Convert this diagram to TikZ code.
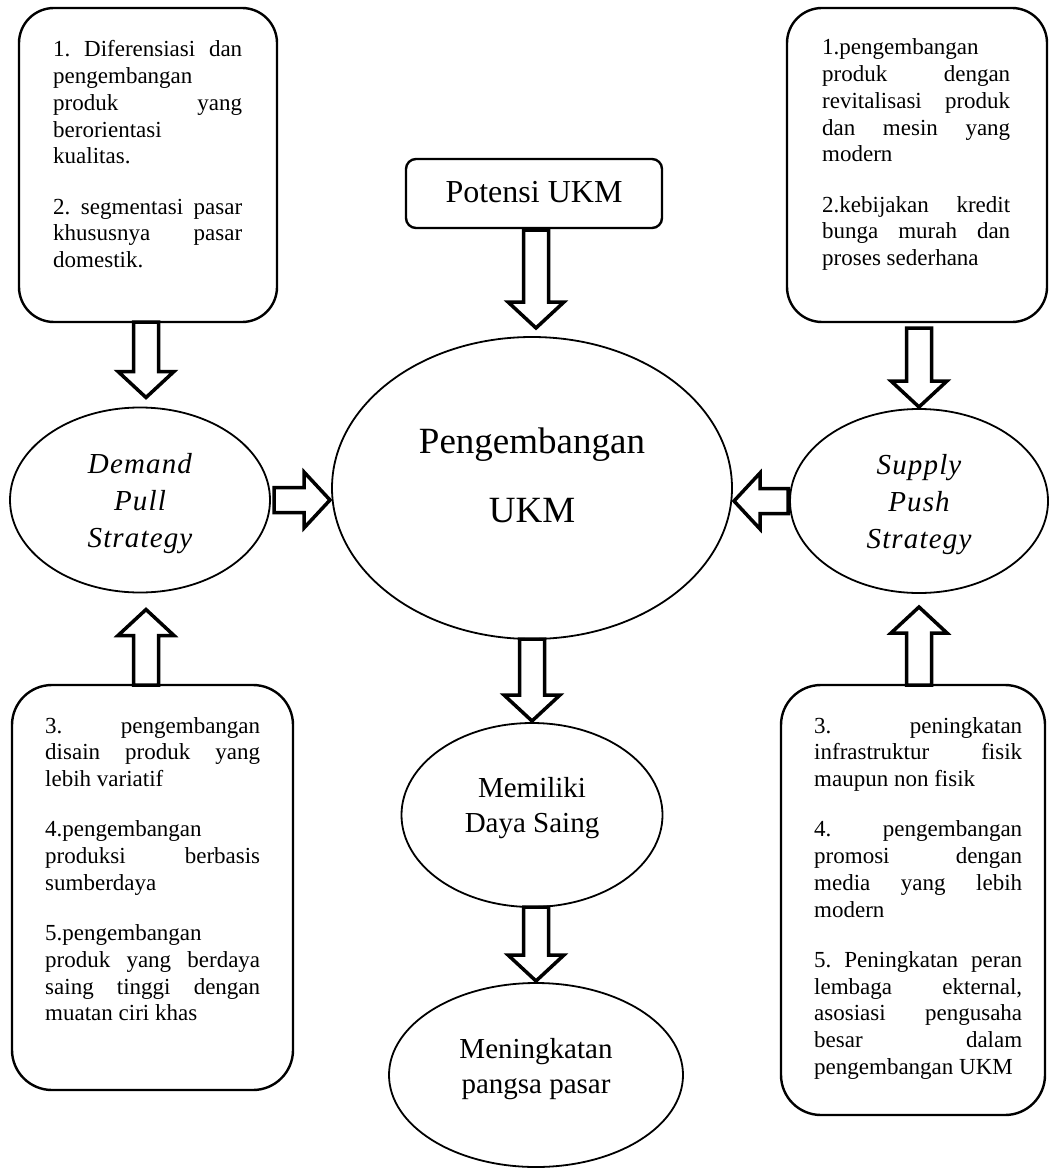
\documentclass[tikz,border=0pt]{standalone}
\usepackage{fontspec}
\setmainfont{Liberation Serif}
\usepackage{tikz}
\usetikzlibrary{calc,shapes.geometric}

\newcommand{\parafont}{\fontsize{23}{26.7}\selectfont\frenchspacing
  \tolerance=10000\relax\hbadness=10000\relax\hyphenpenalty=10000\relax} % justified box text
\newcommand{\gap}{\par\vspace{23.8pt}} % space between numbered points
\newcommand{\blockarrow}[2]{% hollow block arrow, #1 = start, #2 = tip
  \coordinate (ba-s) at #1;
  \coordinate (ba-t) at #2;
  \coordinate (ba-h) at ($(ba-t)!26pt!(ba-s)$); % base of the head
  \draw[fatarrow] ($(ba-s)!12.5pt!90:(ba-t)$) -- ($(ba-h)!12.5pt!90:(ba-t)$) -- ($(ba-h)!28pt!90:(ba-t)$)
    -- (ba-t) -- ($(ba-h)!28pt!-90:(ba-t)$) -- ($(ba-h)!12.5pt!-90:(ba-t)$) -- ($(ba-s)!12.5pt!-90:(ba-t)$) -- cycle;
}

\begin{document}
\begin{tikzpicture}[x=1pt, y=-1pt, % 1 unit = 1 pixel, y runs downwards
  box/.style={draw, line width=2.4pt, inner sep=0pt, outer sep=0pt},
  bubble/.style={draw, ellipse, line width=1.8pt, inner sep=0pt, outer sep=0pt, align=center},
  para/.style={inner sep=0pt, anchor=base west, align=justify, font=\parafont},
  fatarrow/.style={line width=3.5pt, fill=white}]
  \useasboundingbox (0,0) rectangle (1049,1169); % page size

  % text boxes
  \node[box, rounded corners=35pt, minimum width=258pt, minimum height=314pt] (tlbox) at (148,165) {};
  \node[box, rounded corners=35pt, minimum width=260pt, minimum height=314pt] (trbox) at (917,165) {};
  \node[box, rounded corners=40pt, minimum width=281pt, minimum height=405pt] (blbox) at (152.5,887.5) {};
  \node[box, rounded corners=40pt, minimum width=264pt, minimum height=430pt] (brbox) at (913,900) {};
  \node[box, rounded corners=10pt, minimum width=256pt, minimum height=69pt,
    font=\fontsize{32}{36}\selectfont, text depth=4pt] (potensi) at (534,193.5) {Potensi UKM};

  \node[para, text width=189pt] (tltext) at (53,57) {1. Diferensiasi dan\linebreak pengembangan\linebreak produk yang\linebreak berorientasi\linebreak kualitas.\gap
    2. segmentasi pasar\linebreak khususnya pasar\linebreak domestik.};
  \node[para, text width=188pt] (trtext) at (822,55) {1.pengembangan\linebreak produk dengan\linebreak revitalisasi produk\linebreak dan mesin yang\linebreak modern\gap
    2.kebijakan kredit\linebreak bunga murah dan\linebreak proses sederhana};
  \node[para, text width=215pt] (bltext) at (45,733) {3. pengembangan\linebreak disain produk yang\linebreak lebih variatif\gap
    4.pengembangan\linebreak produksi berbasis\linebreak sumberdaya\gap
    5.pengembangan\linebreak produk yang berdaya\linebreak saing tinggi dengan\linebreak muatan ciri khas};
  \node[para, text width=208pt] (brtext) at (814,733) {3. peningkatan\linebreak infrastruktur fisik\linebreak maupun non fisik\gap
    4. pengembangan\linebreak promosi dengan\linebreak media yang lebih\linebreak modern\gap
    5. Peningkatan peran\linebreak lembaga ekternal,\linebreak asosiasi pengusaha\linebreak besar dalam\linebreak pengembangan UKM};

  % ellipses
  \node[bubble, minimum width=400pt, minimum height=302pt, font=\fontsize{37}{69}\selectfont, text depth=26pt] (peng) at (532,488) {Pengembangan\\UKM};
  \node[bubble, minimum width=260pt, minimum height=185pt, font=\fontsize{29}{37}\selectfont\itshape\addfontfeatures{LetterSpace=4}, text depth=0pt] (demand) at (140,500) {Demand\\Pull\\Strategy};
  \node[bubble, minimum width=258pt, minimum height=184pt, font=\fontsize{29}{37}\selectfont\itshape\addfontfeatures{LetterSpace=4}, text depth=0pt] (supply) at (919,501) {Supply\\Push\\Strategy};
  \node[bubble, minimum width=261pt, minimum height=184pt, font=\fontsize{29}{35}\selectfont, text depth=21pt] (memiliki) at (532,815) {Memiliki\\Daya Saing};
  \node[bubble, minimum width=294pt, minimum height=184pt, font=\fontsize{29}{35}\selectfont, text depth=19pt] (meningkatan) at (536,1075) {Meningkatan\\pangsa pasar};

  % block arrows
  \blockarrow{($(demand.north |- tlbox.south)+(6,0)$)}{($(demand.north)+(6,-10)$)}
  \blockarrow{($(demand.south |- blbox.north)+(6,0)$)}{($(demand.south)+(6,17)$)}
  \blockarrow{($(demand.east)+(4,0)$)}{($(peng.west |- demand.east)+(-2,0)$)}
  \blockarrow{($(supply.west)+(-2,0)$)}{($(peng.east |- supply.west)+(2,0)$)}
  \blockarrow{($(supply.north |- trbox.south)+(0,6)$)}{($(supply.north)+(0,-2)$)}
  \blockarrow{(supply.south |- brbox.north)}{($(supply.south)+(0,14)$)}
  \blockarrow{($(potensi.south)+(2,2)$)}{($(potensi.south |- peng.north)+(2,-9)$)}
  \blockarrow{(peng.south)}{($(memiliki.north)+(0,-2)$)}
  \blockarrow{($(memiliki.south)+(4,0)$)}{($(memiliki.south |- meningkatan.north)+(4,-2)$)}
\end{tikzpicture}
\end{document}
